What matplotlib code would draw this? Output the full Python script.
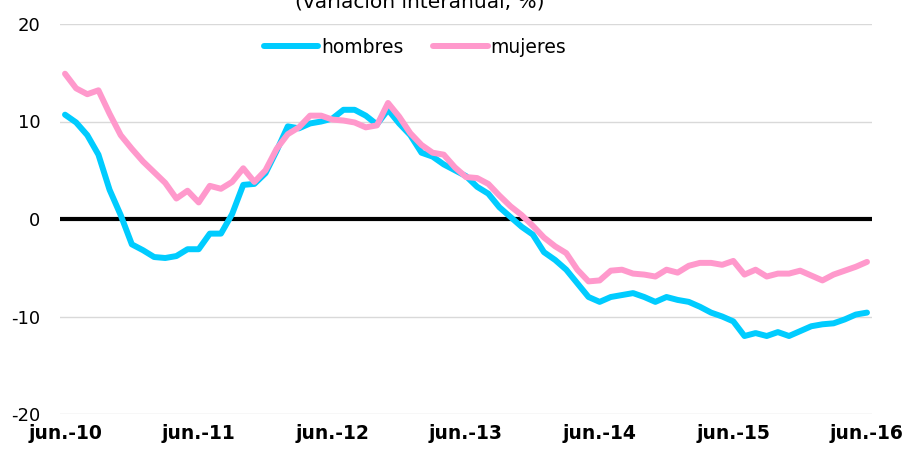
import matplotlib
matplotlib.use("Agg")
import matplotlib.pyplot as plt
import numpy as np

# Monthly data, jun.-10 .. jun.-16 (73 months)
hombres = [10.7, 9.9, 8.6, 6.6, 3.0, 0.4, -2.6, -3.2, -3.9, -4.0,
           -3.8, -3.1, -3.1, -1.5, -1.5, 0.5, 3.5, 3.6, 4.7, 7.0,
           9.5, 9.3, 9.8, 10.0, 10.3, 11.2, 11.2, 10.6, 9.7, 11.2,
           9.8, 8.6, 6.8, 6.4, 5.6, 5.0, 4.4, 3.3, 2.6, 1.2,
           0.2, -0.8, -1.6, -3.4, -4.2, -5.2, -6.6, -8.0, -8.5, -8.0,
           -7.8, -7.6, -8.0, -8.5, -8.0, -8.3, -8.5, -9.0, -9.6, -10.0,
           -10.5, -12.0, -11.7, -12.0, -11.6, -12.0, -11.5, -11.0, -10.8, -10.7,
           -10.3, -9.8, -9.6]
mujeres = [14.9, 13.4, 12.8, 13.2, 10.8, 8.6, 7.2, 5.9, 4.8, 3.7,
           2.1, 2.9, 1.7, 3.4, 3.1, 3.8, 5.2, 3.8, 5.0, 7.2,
           8.7, 9.4, 10.6, 10.6, 10.2, 10.1, 9.9, 9.4, 9.6, 11.9,
           10.5, 8.8, 7.6, 6.8, 6.6, 5.3, 4.3, 4.2, 3.6, 2.4,
           1.3, 0.4, -0.7, -1.9, -2.8, -3.5, -5.2, -6.4, -6.3, -5.3,
           -5.2, -5.6, -5.7, -5.9, -5.2, -5.5, -4.8, -4.5, -4.5, -4.7,
           -4.3, -5.7, -5.2, -5.9, -5.6, -5.6, -5.3, -5.8, -6.3, -5.7,
           -5.3, -4.9, -4.4]
tick_labels = ["jun.-10", "jun.-11", "jun.-12", "jun.-13", "jun.-14", "jun.-15", "jun.-16"]

months = np.arange(len(hombres))

plt.rcParams["axes.unicode_minus"] = False

fig = plt.figure(figsize=(9.08, 4.5), dpi=100)
ax = fig.add_axes([60 / 908, 36 / 450, 812 / 908, 390 / 450])

# Light horizontal gridlines and the thick zero line
for y in [-20, -10, 10, 20]:
    ax.axhline(y, color="#d9d9d9", lw=1, zorder=0)
ax.axhline(0, color="black", lw=3, zorder=1)

ax.plot(months, hombres, color="#00CCFF", lw=4.3, label="hombres", zorder=2,
        solid_joinstyle="round", solid_capstyle="round")
ax.plot(months, mujeres, color="#FF99CC", lw=4.3, label="mujeres", zorder=3,
        solid_joinstyle="round", solid_capstyle="round")

ax.set_xlim(-0.45, 72.45)
ax.set_ylim(-20, 20)
ax.set_yticks([-20, -10, 0, 10, 20])
ax.set_xticks(months[::12])
ax.set_xticklabels(tick_labels, fontweight="bold", fontsize=13.5)
ax.tick_params(axis="y", labelsize=13, length=0, pad=14)
ax.tick_params(axis="x", length=0, pad=7)
for s in ax.spines.values():
    s.set_visible(False)

ax.legend(loc="center", bbox_to_anchor=(0.437, 0.941), ncol=2, frameon=False,
          fontsize=13.5, handlelength=2.9, handletextpad=0.15, columnspacing=1.6)

# Title partly cut off at the top edge
fig.text(0.462, 1 - 8 / 450, "(variación interanual, %)", ha="center",
         va="baseline", fontsize=14.5)

fig.savefig("out.png", dpi=100)
